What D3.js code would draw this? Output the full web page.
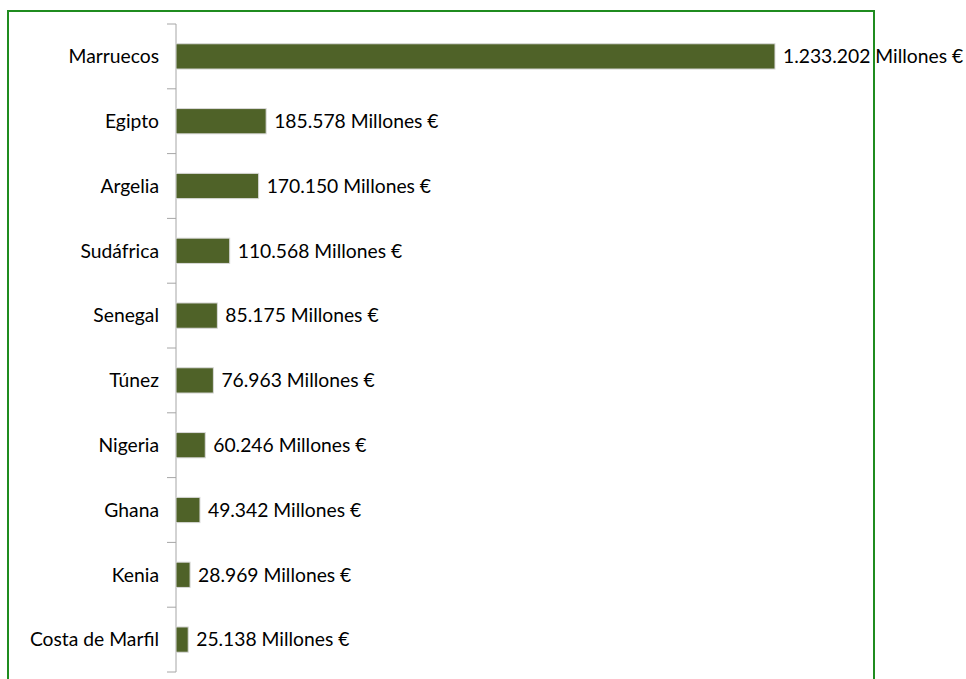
<!DOCTYPE html>
<meta charset="utf-8">
<style>
body { margin: 0; background: #fff; }
.bar { fill: #4f6228; stroke: #d9d9d9; stroke-width: 1px; }
.label { font-family: Lato, "Open Sans", sans-serif; font-size: 19.3px; fill: #000; }
</style>
<body>
<script src="https://d3js.org/d3.v7.min.js"></script>
<script>

// data
var countries = ["Marruecos", "Egipto", "Argelia", "Sudáfrica", "Senegal",
                 "Túnez", "Nigeria", "Ghana", "Kenia", "Costa de Marfil"];
var values = [1233202, 185578, 170150, 110568, 85175, 76963, 60246, 49342, 28969, 25138];
var labels = ["1.233.202", "185.578", "170.150", "110.568", "85.175",
              "76.963", "60.246", "49.342", "28.969", "25.138"];

var data = countries.map(function(c, i) {
  return { country: c, value: values[i], label: labels[i] + " Millones €" };
});

var W = 966, H = 679;
var margin = {top: 24, left: 176};
var width = 680,
    height = 648;

var svg = d3.select("body").append("svg")
    .attr("width", W)
    .attr("height", H);

// green frame
svg.append("rect")
    .attr("x", 8).attr("y", 11)
    .attr("width", 866).attr("height", 700)
    .attr("fill", "none")
    .attr("stroke", "#1f8c1f")
    .attr("stroke-width", 2);

var g = svg.append("g")
    .attr("transform", "translate(" + margin.left + "," + margin.top + ")");

var x = d3.scaleLinear().domain([0, 1400000]).range([0, width]);
var y = d3.scaleBand().domain(countries).range([0, height]).paddingInner(0.61).paddingOuter(0.305);
var yb = d3.scaleBand().domain(countries).range([0, height]);

// axis line + ticks at band boundaries
g.append("line")
    .attr("x1", 0).attr("x2", 0).attr("y1", 0).attr("y2", height)
    .attr("stroke", "#a6a6a6");
g.selectAll(".tick").data(d3.range(countries.length + 1))
  .enter().append("line")
    .attr("x1", -9).attr("x2", 0)
    .attr("y1", function(i) { return i * yb.step(); })
    .attr("y2", function(i) { return i * yb.step(); })
    .attr("stroke", "#a6a6a6");

// category labels
g.selectAll(".cat").data(data)
  .enter().append("text")
    .attr("class", "label")
    .attr("x", -17)
    .attr("y", function(d) { return yb(d.country) + yb.bandwidth() / 2; })
    .attr("dy", "0.35em")
    .attr("text-anchor", "end")
    .text(function(d) { return d.country; });

// bars
g.selectAll(".bar").data(data)
  .enter().append("rect")
    .attr("class", "bar")
    .attr("x", 0)
    .attr("y", function(d) { return y(d.country); })
    .attr("width", function(d) { return x(d.value); })
    .attr("height", y.bandwidth());

// value labels
g.selectAll(".val").data(data)
  .enter().append("text")
    .attr("class", "label")
    .attr("x", function(d) { return x(d.value) + 8; })
    .attr("y", function(d) { return yb(d.country) + yb.bandwidth() / 2; })
    .attr("dy", "0.35em")
    .text(function(d) { return d.label; });

</script>
</body>
